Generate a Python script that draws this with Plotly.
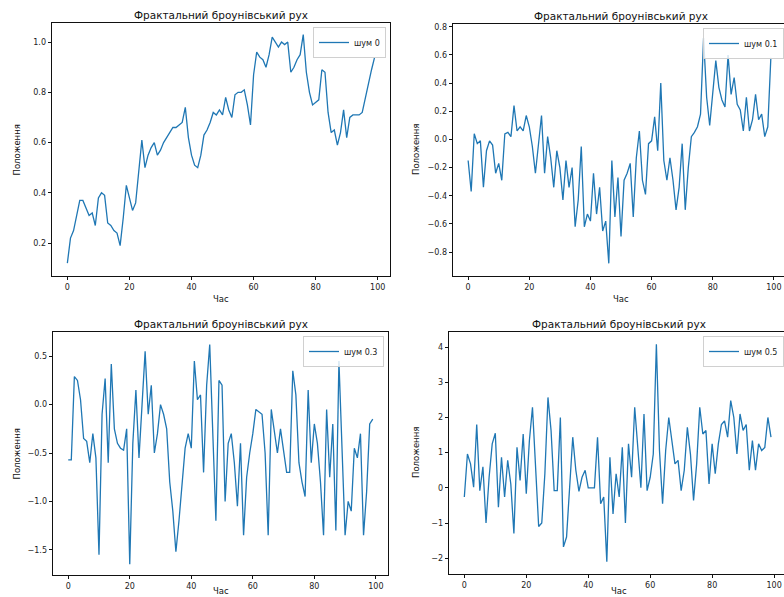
import plotly.graph_objects as go

t = list(range(100))

s_a = [0.12, 0.22, 0.25, 0.31, 0.37, 0.37, 0.34, 0.31, 0.32, 0.27,
       0.38, 0.40, 0.39, 0.28, 0.27, 0.25, 0.24, 0.19, 0.30, 0.43,
       0.38, 0.33, 0.36, 0.48, 0.61, 0.50, 0.55, 0.58, 0.60, 0.55,
       0.57, 0.60, 0.62, 0.64, 0.66, 0.66, 0.67, 0.68, 0.74, 0.62,
       0.55, 0.51, 0.50, 0.55, 0.63, 0.65, 0.68, 0.72, 0.71, 0.73,
       0.71, 0.78, 0.73, 0.70, 0.79, 0.80, 0.80, 0.81, 0.75, 0.67,
       0.87, 0.96, 0.94, 0.93, 0.90, 0.95, 1.02, 1.00, 0.98, 1.00,
       0.99, 1.00, 0.88, 0.90, 0.93, 0.95, 1.03, 0.88, 0.80, 0.75,
       0.76, 0.77, 0.89, 0.88, 0.72, 0.64, 0.65, 0.59, 0.64, 0.73,
       0.62, 0.70, 0.71, 0.71, 0.71, 0.72, 0.78, 0.84, 0.89, 0.94]

s_b = [-0.15, -0.37, 0.04, -0.03, -0.01, -0.34, -0.08, -0.01, -0.04, -0.24,
       -0.17, -0.29, 0.04, 0.05, 0.02, 0.24, 0.06, 0.09, 0.06, 0.17,
       0.09, -0.05, -0.24, -0.01, 0.17, -0.24, 0.02, -0.13, -0.34, -0.08,
       -0.20, -0.43, -0.15, -0.34, -0.20, -0.62, -0.43, -0.05, -0.62, -0.53,
       -0.58, -0.24, -0.53, -0.34, -0.65, -0.58, -0.88, -0.15, -0.55, -0.27,
       -0.69, -0.29, -0.24, -0.17, -0.55, -0.13, 0.06, -0.29, -0.39, -0.03,
       -0.01, 0.16, -0.08, 0.40, -0.15, -0.29, -0.13, -0.29, -0.50, -0.34,
       -0.03, -0.50, -0.20, 0.02, 0.05, 0.09, 0.18, 0.72, 0.30, 0.10,
       0.32, 0.56, 0.37, 0.28, 0.23, 0.60, 0.32, 0.44, 0.25, 0.21,
       0.06, 0.30, 0.06, 0.14, 0.32, 0.14, 0.18, 0.02, 0.09, 0.58]

s_c = [-0.57, -0.57, 0.29, 0.25, 0.05, -0.35, -0.38, -0.60, -0.30, -0.55,
       -1.55, -0.10, 0.27, -0.60, 0.42, -0.25, -0.40, -0.45, -0.47, -0.25,
       -1.65, -0.40, 0.15, -0.55, 0.00, 0.55, -0.10, 0.20, -0.50, -0.30,
       0.00, -0.10, -0.25, -0.80, -1.10, -1.52, -1.20, -0.80, -0.45, -0.30,
       -0.45, 0.45, 0.05, 0.10, -0.70, 0.20, 0.62, -0.30, -1.20, 0.25,
       0.20, -1.00, -0.40, -0.30, -0.60, -1.05, -0.40, -1.35, -0.75, -0.50,
       -0.30, -0.05, -0.08, -0.10, -0.50, -1.35, -0.05, -0.30, -0.50, -0.25,
       -0.50, -0.70, -0.70, 0.35, 0.10, -0.60, -0.80, -0.95, 0.15, -0.60,
       -0.20, -0.40, -0.80, -1.35, -0.05, -0.75, -0.20, -1.30, 0.45, -0.50,
       -1.35, -1.00, -1.10, -0.45, -0.55, -0.30, -1.35, -0.90, -0.20, -0.15]

s_d = [-0.26, 0.96, 0.68, 0.02, 1.80, -0.08, 0.60, -1.00, 0.30, 1.25,
       1.55, -0.55, 0.87, -0.26, 0.78, 0.11, -1.30, 1.15, 0.21, 1.53,
       -0.17, 1.34, 2.29, 0.40, -1.10, -1.00, 0.40, 2.57, 1.63, -0.08,
       -0.08, 2.00, -1.68, -1.40, -0.08, 1.44, 0.50, -0.10, 0.30, 0.50,
       0.00, 0.00, 0.00, 1.44, -0.45, -0.26, -2.10, 0.87, -0.74, 0.40,
       -0.26, 1.15, -1.00, 1.25, 0.30, 2.29, 1.06, 0.00, 2.10, -0.08,
       0.30, 0.96, 4.08, 1.06, -0.45, 1.06, 2.00, 1.34, 0.68, 0.78,
       -0.08, 0.50, 1.72, 0.96, -0.36, 0.68, 2.29, 1.53, 1.63, 0.11,
       1.25, 0.40, 1.25, 1.80, 1.90, 1.44, 2.48, 2.00, 0.96, 2.10,
       1.63, 1.80, 0.50, 1.34, 0.50, 1.25, 1.06, 1.15, 2.00, 1.44]

series = [s_a, s_b, s_c, s_d]
labels = ["шум 0", "шум 0.1", "шум 0.3", "шум 0.5"]
title_text = "Фрактальний броунівський рух"
x_label = "Час"
y_label = "Положення"
x_ticks = [0, 20, 40, 60, 80, 100]
y_ticks = [
    [0.2, 0.4, 0.6, 0.8, 1.0],
    [-0.8, -0.6, -0.4, -0.2, 0.0, 0.2, 0.4, 0.6, 0.8],
    [-1.5, -1.0, -0.5, 0.0, 0.5],
    [-2, -1, 0, 1, 2, 3, 4],
]
y_fmt = ["{:.1f}", "{:.1f}", "{:.1f}", "{:d}"]

W, H = 784, 597
# pixel boxes of the four plot areas: left, right, top, bottom
boxes = [(52, 390, 23, 276), (453, 784, 24, 276), (53, 388, 332, 575), (449, 784, 332, 574)]
x_ranges = [[-4.95, 103.95], [-4.95, 103.3], [-4.95, 103.95], [-4.95, 103.2]]
y_ranges = [[0.069, 1.076], [-0.97, 0.82], [-1.76, 0.75], [-2.45, 4.43]]

FONT = "DejaVu Sans"
fig = go.Figure()
layout = dict(width=W, height=H, margin=dict(l=0, r=0, t=0, b=0, autoexpand=False),
              paper_bgcolor="white", plot_bgcolor="white", showlegend=True,
              font=dict(family=FONT, color="#222"))
annotations = []


def fmt(v, f):
    return f.format(v).replace("-", "\u2212")


for i, s in enumerate(series):
    n = "" if i == 0 else str(i + 1)
    lg = "legend" if i == 0 else f"legend{i + 1}"
    fig.add_trace(go.Scatter(x=t, y=s, mode="lines", name=labels[i],
                             line=dict(color="#1f77b4", width=1.3),
                             xaxis="x" + n, yaxis="y" + n, legend=lg))
    l, r, tp, b = boxes[i]
    ax = dict(showline=True, linecolor="#111", linewidth=0.8, mirror=True,
              ticks="outside", ticklen=3.5, tickwidth=0.8, tickcolor="#111",
              showgrid=False, zeroline=False, tickfont=dict(size=8, family=FONT, color="#222"))
    layout["xaxis" + n] = dict(ax, domain=[l / W, r / W], range=x_ranges[i],
                               tickvals=x_ticks, ticktext=[str(v) for v in x_ticks],
                               ticklabeloverflow="allow", anchor="y" + n)
    layout["yaxis" + n] = dict(ax, domain=[1 - b / H, 1 - tp / H], range=y_ranges[i],
                               tickvals=y_ticks[i],
                               ticktext=[fmt(v, y_fmt[i]) for v in y_ticks[i]],
                               anchor="x" + n)
    cx = (l + r) / 2 if i % 2 == 0 else (l + 789) / 2
    annotations.append(dict(text=title_text, x=cx / W, y=1 - (tp - 8) / H, xref="paper", yref="paper",
                            showarrow=False, xanchor="center", yanchor="middle",
                            font=dict(size=10.5, family=FONT, color="#111")))
    xl_y = 299 if i < 2 else 591
    annotations.append(dict(text=x_label, x=cx / W, y=1 - xl_y / H, xref="paper", yref="paper",
                            showarrow=False, xanchor="center", yanchor="middle",
                            font=dict(size=8.5, family=FONT, color="#111")))
    yl_x = 16 if i % 2 == 0 else 416
    annotations.append(dict(text=y_label, x=yl_x / W, y=1 - ((tp + b) / 2) / H, xref="paper", yref="paper",
                            showarrow=False, xanchor="center", yanchor="middle", textangle=-90,
                            font=dict(size=8.5, family=FONT, color="#111")))
    leg = dict(yanchor="top", y=1 - (tp + 4) / H, bgcolor="rgba(255,255,255,0.8)",
               bordercolor="#d0d0d0", borderwidth=1, font=dict(size=8, family=FONT, color="#222"),
               itemwidth=30)
    if i % 2 == 0:
        leg.update(x=(r - 4) / W, xanchor="right")
    else:
        leg.update(x=703 / W, xanchor="left")
    layout[lg] = leg

layout["annotations"] = annotations
fig.update_layout(**layout)
fig.write_html("out.html")
